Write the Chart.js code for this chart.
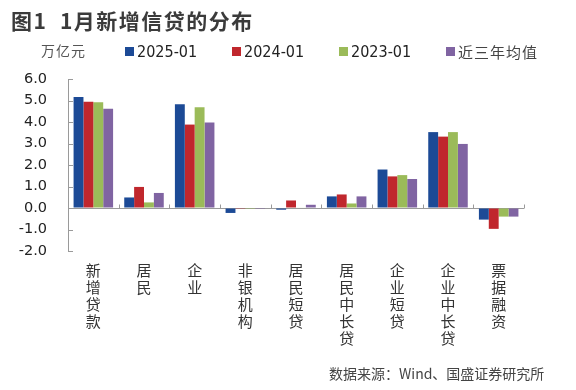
<!DOCTYPE html>
<html>
<head>
<meta charset="utf-8">
<script src="https://cdn.jsdelivr.net/npm/chart.js@4.4.1/dist/chart.umd.min.js"></script>
<style>
    body { margin: 0; background: #fff; }
    #wrap { position: relative; width: 576px; height: 390px; overflow: hidden; }
    #title { position: absolute; left: 11px; top: 5px; font: bold 21px "Noto Sans CJK SC", sans-serif; color: #3b3b3b; white-space: pre; letter-spacing: 1.5px; }
    #unit { position: absolute; left: 41px; top: 40px; font: 14px "Noto Sans CJK SC", sans-serif; color: #555; letter-spacing: 1px; }
    #legend { position: absolute; left: 125px; top: 40px; display: flex; }
    .item { width: 107px; display: flex; align-items: center; height: 22px; }
    .box { width: 9px; height: 9px; margin-right: 3px; }
    .lbl { font: 16px "DejaVu Sans Condensed", "DejaVu Sans", sans-serif; color: #222; }
    .cjk { font: 15px "Noto Sans CJK SC", sans-serif; color: #444; letter-spacing: 1px; }
    #source { position: absolute; left: 329px; top: 363px; font: 14px "Noto Sans CJK SC", sans-serif; color: #444; white-space: nowrap; }
    canvas { position: absolute; left: 0; top: 0; }
</style>
</head>
<body>
<div id="wrap">
    <canvas id="chart" width="576" height="390"></canvas>
    <div id="title">图1  1月新增信贷的分布</div>
    <div id="unit">万亿元</div>
    <div id="legend"></div>
    <div id="source">数据来源：Wind、国盛证券研究所</div>
</div>
<script>
// 数据（万亿元）
const categories = ['新增贷款', '居民', '企业', '非银机构', '居民短贷', '居民中长贷', '企业短贷', '企业中长贷', '票据融资'];
const seriesNames = ['2025-01', '2024-01', '2023-01', '近三年均值'];
const jan2025 = [5.16, 0.49, 4.82, -0.23, -0.08, 0.54, 1.79, 3.53, -0.54];
const jan2024 = [4.94, 0.98, 3.88, -0.01, 0.35, 0.63, 1.47, 3.32, -0.97];
const jan2023 = [4.92, 0.26, 4.69, -0.04, 0.02, 0.21, 1.53, 3.53, -0.40];
const avg3y = [4.62, 0.70, 3.98, -0.04, 0.15, 0.54, 1.35, 2.98, -0.40];
const yTicks = [-2, -1, 0, 1, 2, 3, 4, 5, 6];

const colors = ['#1c4a96', '#c0272d', '#9bbb59', '#8064a2'];
const seriesValues = [jan2025, jan2024, jan2023, avg3y];

// 图例
const legendEl = document.getElementById('legend');
seriesNames.forEach((name, i) => {
    const item = document.createElement('div');
    item.className = 'item';
    const isCjk = /[\u4e00-\u9fff]/.test(name);
    item.innerHTML = '<span class="box" style="background:' + colors[i] + '"></span>' +
        '<span class="' + (isCjk ? 'cjk' : 'lbl') + '">' + name + '</span>';
    legendEl.appendChild(item);
});

// 坐标轴刻度线
const axisTicks = {
    id: 'axisTicks',
    afterDatasetsDraw(chart) {
        const x = chart.scales.x, y = chart.scales.y, ctx = chart.ctx;
        ctx.save();
        ctx.strokeStyle = '#9a9a9a';
        ctx.lineWidth = 1;
        ctx.beginPath();
        y.ticks.forEach(t => {
            const py = Math.round(y.getPixelForValue(t.value)) + 0.5;
            ctx.moveTo(x.left, py);
            ctx.lineTo(x.left + 5, py);
        });
        const y0 = Math.round(y.getPixelForValue(0)) + 0.5;
        for (let i = 1; i <= categories.length; i++) {
            const px = Math.round(x.getPixelForValue(i - 0.5)) + 0.5;
            ctx.moveTo(px, y0);
            ctx.lineTo(px, y0 - 4);
        }
        ctx.stroke();
        ctx.restore();
    }
};

new Chart(document.getElementById('chart'), {
    type: 'bar',
    data: {
        labels: categories.map(s => s.split('')),
        datasets: seriesNames.map((name, i) => ({
            label: name,
            data: seriesValues[i],
            backgroundColor: colors[i],
            borderWidth: 0,
            categoryPercentage: 0.78,
            barPercentage: 1
        }))
    },
    options: {
        responsive: false,
        animation: false,
        layout: { padding: { top: 79, right: 52, left: 0, bottom: 39 } },
        plugins: { legend: { display: false }, tooltip: { enabled: false } },
        scales: {
            x: {
                grid: { display: false, drawTicks: false },
                border: { display: false },
                ticks: {
                    autoSkip: false,
                    maxRotation: 0,
                    padding: 11,
                    color: '#333',
                    font: { family: '"Noto Sans CJK SC", sans-serif', size: 15, lineHeight: '17px' }
                },
                afterFit(scale) { scale.height = 100; }
            },
            y: {
                min: -2,
                max: 6,
                afterBuildTicks(scale) { scale.ticks = yTicks.map(v => ({ value: v })); },
                grid: {
                    drawTicks: false,
                    color: ctx => (ctx.tick && ctx.tick.value === 0 ? '#9a9a9a' : 'rgba(0,0,0,0)')
                },
                border: { display: true, color: '#9a9a9a' },
                ticks: {
                    padding: 21,
                    color: '#222',
                    font: { family: '"DejaVu Sans", sans-serif', size: 14.5 },
                    callback: v => v.toFixed(1)
                },
                afterFit(scale) { scale.width = 68; }
            }
        }
    },
    plugins: [axisTicks]
});
</script>
</body>
</html>
